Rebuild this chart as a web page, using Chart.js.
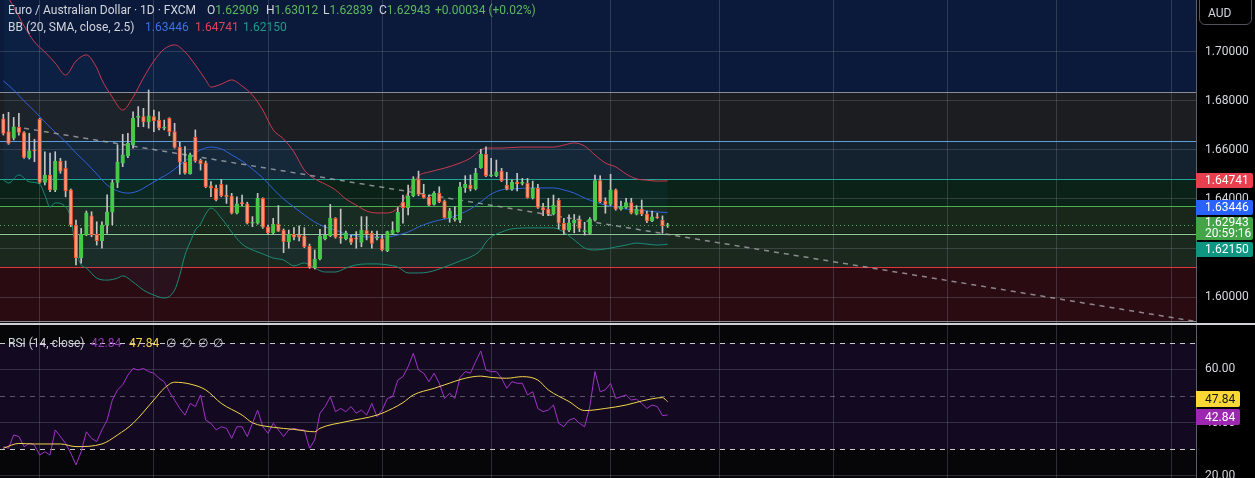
<!DOCTYPE html>
<html><head><meta charset="utf-8">
<script src="https://cdn.jsdelivr.net/npm/chart.js@4.4.1/dist/chart.umd.min.js"></script>
<style>
body{margin:0;background:#000;width:1255px;height:478px;overflow:hidden;position:relative;font-family:Roboto,"Noto Sans",sans-serif;}
.abs{position:absolute;white-space:nowrap;}
.hdr{font-size:12px;line-height:16px;color:#d1d4dc;}
.lg{font-size:12px;line-height:16px;color:#d1d4dc;}
.g{color:#5cb860;}
.badge{position:absolute;left:1196px;box-sizing:border-box;padding:0 5px 0 9px;font-size:12px;color:#fff;border-radius:0 2px 2px 0;white-space:nowrap;}
</style></head>
<body>
<canvas id="main" width="1255" height="323" style="position:absolute;left:0;top:0"></canvas>
<div style="position:absolute;left:0;top:323px;width:1255px;height:2px;background:#cfd1d6"></div>
<canvas id="rsi" width="1255" height="153" style="position:absolute;left:0;top:325px"></canvas>

<div class="abs hdr" style="left:8px;top:2px">Euro / Australian Dollar · 1D · FXCM</div>
<div class="abs hdr" style="left:207px;top:2px">O<span class="g" id="vO"></span></div>
<div class="abs hdr" style="left:266px;top:2px">H<span class="g" id="vH"></span></div>
<div class="abs hdr" style="left:323px;top:2px">L<span class="g" id="vL"></span></div>
<div class="abs hdr" style="left:379px;top:2px">C<span class="g" id="vC"></span></div>
<div class="abs hdr g" style="left:435px;top:2px" id="vChg"></div>
<div class="abs hdr" style="left:8px;top:19px">BB (20, SMA, close, 2.5)</div>
<div class="abs hdr" style="left:145px;top:19px;color:#3d6fe8" id="vMid"></div>
<div class="abs hdr" style="left:195px;top:19px;color:#dc4356" id="vUp"></div>
<div class="abs hdr" style="left:243px;top:19px;color:#1a9c88" id="vLo"></div>

<div class="abs lg" style="left:8px;top:335px">RSI (14, close)</div>
<div class="abs lg" style="left:91px;top:335px;color:#8e3bb0" id="vRsi"></div>
<div class="abs lg" style="left:129px;top:335px;color:#f2d54a" id="vMa"></div>
<div class="abs lg" style="left:166px;top:335px">∅</div>
<div class="abs lg" style="left:182px;top:335px">∅</div>
<div class="abs lg" style="left:198px;top:335px">∅</div>
<div class="abs lg" style="left:213px;top:335px">∅</div>

<div class="abs" style="left:1199px;top:-6px;width:53px;height:31px;border:1px solid #50535c;border-radius:6px;box-sizing:border-box;color:#d1d4dc;font-size:12px;line-height:12px;padding:12px 0 0 8px">AUD</div>
<div id="badges"></div>

<script>
// ---------- DATA ----------
const opens = [1.6727,1.6675,1.6648,1.6693,1.6671,1.6569,1.6598,1.6725,1.6468,1.6498,
1.6437,1.6555,1.6525,1.6437,1.6294,1.6160,1.6253,1.6331,1.6256,1.6230,
1.6294,1.6346,1.6468,1.6546,1.6576,1.6621,1.6733,1.6736,1.6715,1.6736,
1.6722,1.6689,1.6729,1.6675,1.6611,1.6550,1.6502,1.6652,1.6558,1.6548,
1.6454,1.6444,1.6460,1.6416,1.6412,1.6342,1.6382,1.6380,1.6301,1.6301,
1.6403,1.6285,1.6262,1.6297,1.6273,1.6226,1.6256,1.6253,1.6249,1.6208,
1.6120,1.6155,1.6237,1.6250,1.6321,1.6244,1.6237,1.6242,1.6237,1.6223,
1.6271,1.6260,1.6240,1.6237,1.6189,1.6260,1.6267,1.6387,1.6365,1.6413,
1.6482,1.6419,1.6407,1.6378,1.6423,1.6392,1.6324,1.6317,1.6314,1.6446,
1.6457,1.6441,1.6528,1.6582,1.6495,1.6495,1.6514,1.6457,1.6440,1.6468,
1.6464,1.6464,1.6405,1.6444,1.6365,1.6359,1.6339,1.6396,1.6301,1.6273,
1.6301,1.6314,1.6267,1.6260,1.6314,1.6475,1.6392,1.6378,1.6437,1.6358,
1.6366,1.6385,1.6338,1.6359,1.6338,1.6311,1.6327,1.6314,1.62909];
const highs = [1.6746,1.6754,1.6733,1.6750,1.6675,1.6668,1.6644,1.6729,1.6593,1.6587,
1.6593,1.6566,1.6555,1.6441,1.6314,1.6280,1.6351,1.6348,1.6307,1.6307,
1.6417,1.6478,1.6621,1.6664,1.6668,1.6756,1.6777,1.6770,1.6845,1.6763,
1.6756,1.6722,1.6732,1.6709,1.6632,1.6614,1.6587,1.6682,1.6563,1.6555,
1.6471,1.6457,1.6480,1.6457,1.6423,1.6409,1.6416,1.6387,1.6328,1.6423,
1.6405,1.6294,1.6321,1.6373,1.6278,1.6273,1.6283,1.6290,1.6283,1.6216,
1.6192,1.6276,1.6294,1.6378,1.6324,1.6359,1.6269,1.6253,1.6267,1.6328,
1.6328,1.6269,1.6269,1.6253,1.6269,1.6307,1.6365,1.6416,1.6457,1.6491,
1.6514,1.6460,1.6416,1.6430,1.6450,1.6396,1.6362,1.6369,1.6468,1.6495,
1.6498,1.6525,1.6603,1.6613,1.6566,1.6559,1.6525,1.6509,1.6478,1.6505,
1.6484,1.6484,1.6473,1.6460,1.6382,1.6403,1.6416,1.6403,1.6321,1.6335,
1.6337,1.6331,1.6305,1.6324,1.6498,1.6495,1.6405,1.6501,1.6441,1.6392,
1.6403,1.6403,1.6373,1.6396,1.6351,1.6351,1.6342,1.6331,1.63012];
const lows = [1.6661,1.6623,1.6641,1.6661,1.6566,1.6563,1.6552,1.6464,1.6457,1.6430,
1.6430,1.6505,1.6409,1.6287,1.6131,1.6138,1.6250,1.6246,1.6212,1.6199,
1.6260,1.6294,1.6446,1.6532,1.6569,1.6607,1.6695,1.6695,1.6689,1.6675,
1.6682,1.6682,1.6658,1.6607,1.6501,1.6501,1.6501,1.6550,1.6518,1.6446,
1.6409,1.6392,1.6409,1.6382,1.6339,1.6339,1.6373,1.6298,1.6287,1.6297,
1.6280,1.6256,1.6257,1.6267,1.6181,1.6199,1.6233,1.6229,1.6201,1.6117,
1.6114,1.6151,1.6233,1.6246,1.6240,1.6219,1.6233,1.6215,1.6199,1.6205,
1.6233,1.6199,1.6233,1.6188,1.6185,1.6256,1.6264,1.6301,1.6335,1.6409,
1.6413,1.6403,1.6373,1.6375,1.6385,1.6321,1.6305,1.6310,1.6303,1.6427,
1.6433,1.6437,1.6525,1.6491,1.6491,1.6491,1.6471,1.6437,1.6435,1.6433,
1.6457,1.6403,1.6400,1.6362,1.6332,1.6332,1.6335,1.6278,1.6256,1.6267,
1.6262,1.6267,1.6253,1.6256,1.6310,1.6385,1.6342,1.6373,1.6354,1.6354,
1.6362,1.6339,1.6335,1.6332,1.6303,1.6307,1.6321,1.6260,1.62839];
const closes = [1.6668,1.6627,1.6695,1.6672,1.6570,1.6597,1.6596,1.6468,1.6498,1.6437,
1.6555,1.6514,1.6433,1.6294,1.6160,1.6256,1.6344,1.6253,1.6230,1.6294,
1.6348,1.6467,1.6550,1.6580,1.6627,1.6729,1.6735,1.6715,1.6739,1.6720,
1.6689,1.6690,1.6675,1.6611,1.6550,1.6505,1.6580,1.6555,1.6544,1.6450,
1.6444,1.6396,1.6413,1.6409,1.6342,1.6380,1.6381,1.6301,1.6302,1.6403,
1.6285,1.6262,1.6297,1.6269,1.6226,1.6256,1.6244,1.6244,1.6205,1.6124,
1.6155,1.6249,1.6253,1.6321,1.6244,1.6240,1.6262,1.6223,1.6236,1.6272,
1.6257,1.6219,1.6241,1.6192,1.6267,1.6272,1.6346,1.6365,1.6413,1.6482,
1.6419,1.6405,1.6375,1.6423,1.6389,1.6324,1.6351,1.6318,1.6450,1.6460,
1.6441,1.6505,1.6582,1.6495,1.6496,1.6511,1.6475,1.6440,1.6468,1.6462,
1.6465,1.6405,1.6444,1.6366,1.6355,1.6339,1.6375,1.6301,1.6273,1.6303,
1.6314,1.6280,1.6268,1.6317,1.6475,1.6389,1.6378,1.6437,1.6358,1.6369,
1.6385,1.6342,1.6359,1.6338,1.6311,1.6327,1.6323,1.62909,1.62943];

const upperBars = [0,2,4,6,8,10,12,14,16,18,19,21,23,25,27,29,31,33,35,37,39,40,42,44,46,48,50,52,54,56,58,60,62,64,66,68,70,72,74,76,78,80,82,85,88,90,92,93,96,100,104,106,108,110,112,114,116,118,120,122,124,126,128];
const upperVals = [1.7253,1.7184,1.7106,1.7041,1.7000,1.6955,1.6906,1.6963,1.6988,1.6935,1.6886,1.6816,1.6763,1.6816,1.6894,1.6963,1.7012,1.7029,1.7000,1.6947,1.6886,1.6857,1.6869,1.6886,1.6861,1.6824,1.6763,1.6682,1.6645,1.6592,1.6518,1.6482,1.6461,1.6437,1.6400,1.6375,1.6351,1.6343,1.6343,1.6363,1.6428,1.6494,1.6510,1.6526,1.6547,1.6567,1.6600,1.6608,1.6608,1.6612,1.6612,1.6612,1.6620,1.6629,1.6616,1.6580,1.6547,1.6531,1.6502,1.6482,1.6477,1.6473,1.64741];
const midBars = [0,2,4,6,8,10,12,14,16,18,20,22,24,26,28,30,32,34,36,38,40,42,44,46,48,50,52,54,56,58,60,62,64,66,68,70,72,74,76,78,80,82,84,86,88,90,92,94,96,98,102,106,108,110,112,114,116,118,120,122,124,126,128];
const midVals = [1.6882,1.6845,1.6800,1.6759,1.6714,1.6673,1.6633,1.6588,1.6547,1.6502,1.6457,1.6433,1.6424,1.6433,1.6457,1.6482,1.6506,1.6539,1.6571,1.6600,1.6612,1.6604,1.6580,1.6555,1.6522,1.6486,1.6441,1.6400,1.6367,1.6335,1.6306,1.6286,1.6273,1.6257,1.6249,1.6245,1.6245,1.6245,1.6253,1.6265,1.6286,1.6302,1.6314,1.6322,1.6339,1.6359,1.6388,1.6420,1.6437,1.6441,1.6445,1.6445,1.6437,1.6424,1.6404,1.6388,1.6375,1.6367,1.6359,1.6355,1.6351,1.6347,1.63446];
const lowerBars = [0,1,3,5,7,8,9,10,12,13,14,15,16,18,20,22,23,25,27,29,31,33,34,35,36,37,38,39,40,42,44,46,48,50,52,54,56,58,60,62,64,66,68,70,72,74,76,78,80,82,85,88,90,92,93,94,96,98,102,106,108,110,112,114,116,118,120,122,124,126,128];
const lowerVals = [1.6478,1.6465,1.6498,1.6470,1.6461,1.6416,1.6367,1.6384,1.6367,1.6322,1.6192,1.6131,1.6118,1.6077,1.6069,1.6077,1.6086,1.6061,1.6028,1.6008,1.5996,1.6028,1.6090,1.6171,1.6224,1.6273,1.6298,1.6339,1.6363,1.6322,1.6265,1.6216,1.6192,1.6176,1.6159,1.6151,1.6127,1.6139,1.6118,1.6102,1.6102,1.6118,1.6131,1.6135,1.6135,1.6131,1.6122,1.6098,1.6098,1.6102,1.6122,1.6147,1.6163,1.6192,1.6224,1.6245,1.6265,1.6278,1.6282,1.6282,1.6265,1.6233,1.6200,1.6192,1.6196,1.6204,1.6212,1.6220,1.6216,1.6212,1.62150];

const trendBars = [4, 229.8];
const trendVals = [1.6689, 1.5900];

const fibPrices = [1.59020, 1.61226, 1.62591, 1.63694, 1.64796, 1.66367, 1.68367];
const fibLineColors = ['#8a8d96','#e0383e','#8fca90','#4caf50','#22a593','#5f9fdc','#8a8d96'];
const fibFillColors = ['#2a0b11','#1b281e','#19261a','#0b2219','#142230','#1c1d20'];
const fibAboveColor = '#0b1a3a';

const rsiVals = [30.9,30.3,35.3,34.7,30.9,32.1,31.5,27.7,29.0,27.7,
37.2,34.7,32.1,28.4,24.0,29.0,36.5,34.0,32.8,37.2,
40.9,48.5,52.3,54.2,57.9,60.4,59.8,60.4,59.2,58.6,
56.7,55.4,51.6,48.5,45.3,42.8,47.2,46.0,50.4,40.9,
39.7,37.2,38.4,37.8,34.0,38.4,38.4,34.7,39.7,44.7,
38.4,35.9,39.7,37.2,34.7,37.2,37.8,37.2,37.2,30.3,
33.4,43.5,46.0,49.7,44.1,45.3,44.1,46.0,43.5,44.7,
42.8,47.2,42.2,44.7,49.1,49.7,56.0,57.3,61.1,66.1,
59.8,58.6,55.4,58.6,54.8,49.1,51.0,49.1,57.0,59.2,
58.6,63.0,67.0,59.8,59.2,59.2,56.7,52.9,55.4,54.8,
54.8,50.4,51.6,45.3,44.1,44.7,46.6,39.7,38.4,40.9,
41.6,39.7,38.4,46.0,59.2,51.6,52.3,54.8,49.1,49.7,
50.4,48.5,48.8,47.2,45.3,46.6,46.0,42.6,42.84];
const maBars = [0,3,6,11,14,19,22,25,29,31,33,36,39,42,46,48,52,56,60,61,66,72,75,77,79,83,85,89,92,94,97,100,103,105,109,112,116,120,123,127,128];
const maVals = [30.3,32.1,31.9,31.9,30.9,31.9,35.3,39.7,48.5,52.9,55.2,54.5,52.3,47.2,42.8,39.9,38.2,37.4,36.5,37.8,40.3,42.8,45.3,47.5,50.4,52.9,54.2,56.7,57.5,57.0,56.7,57.3,56.0,52.3,47.9,44.5,45.3,46.6,48.1,49.4,47.84];

const gridBars = [7, 29, 51, 73, 94, 117, 138, 160, 182, 203, 225];
const priceTicks = [1.60, 1.62, 1.64, 1.66, 1.68, 1.70];
const rsiTicks = [20, 40, 60];
const rsiLevels = [70, 50, 30];
const countdown = '20:59:16';

// ---------- STYLE ----------
const GRID = 'rgba(125,128,140,0.32)';
const AXIS_TXT = '#d6d8de';
const FONT = {family:'Roboto, "Noto Sans", sans-serif', size:12};
const X_RANGE = {min:-0.64, max:229.8};

const pts = (bars, vals) => bars.map((b,i)=>({x:b, y:vals[i]}));
const n = closes.length;
const isUp = opens.map((o,i)=>closes[i]>=o);
const noPad = s=>{s.paddingTop=0; s.paddingBottom=0; s.paddingLeft=0; s.paddingRight=0;};

function xScale(){
  return {type:'linear', min:X_RANGE.min, max:X_RANGE.max, offset:false,
    ticks:{display:false}, grid:{color:GRID, drawTicks:false, offset:false},
    border:{display:false},
    afterBuildTicks:s=>{s.ticks = gridBars.map(v=>({value:v}));},
    afterFit:s=>{s.height = 0; noPad(s);}};
}

const mainPlugin = {
  id:'mainbg',
  beforeDraw(chart){
    const {ctx, chartArea:a, scales:{y}} = chart;
    const w = a.right - a.left;
    ctx.save();
    ctx.fillStyle = '#000'; ctx.fillRect(0,0,chart.width,chart.height);
    ctx.fillStyle = '#0e0e0f'; ctx.fillRect(a.left,a.top,w,a.bottom-a.top);
    const top = y.getPixelForValue(fibPrices[fibPrices.length-1]);
    ctx.fillStyle = fibAboveColor; ctx.fillRect(a.left,a.top,w,top-a.top);
    for(let i=0;i<fibPrices.length-1;i++){
      const y0 = y.getPixelForValue(fibPrices[i]), y1 = y.getPixelForValue(fibPrices[i+1]);
      ctx.fillStyle = fibFillColors[i]; ctx.fillRect(a.left,y1,w,y0-y1);
    }
    ctx.restore();
  },
  beforeDatasetsDraw(chart){
    const {ctx, chartArea:a, scales:{y}} = chart;
    ctx.save();
    ctx.lineWidth = 1;
    fibPrices.forEach((p,i)=>{
      const py = Math.round(y.getPixelForValue(p))+0.5;
      ctx.strokeStyle = fibLineColors[i];
      ctx.beginPath(); ctx.moveTo(a.left,py); ctx.lineTo(a.right,py); ctx.stroke();
    });
    const py = Math.round(y.getPixelForValue(closes[n-1]))+0.5;
    ctx.strokeStyle = '#4caf50'; ctx.setLineDash([1,3]);
    ctx.beginPath(); ctx.moveTo(a.left,py); ctx.lineTo(a.right,py); ctx.stroke();
    ctx.restore();
  }
};

const mainChart = new Chart(document.getElementById('main'), {
  type:'bar',
  data:{datasets:[
    {type:'bar', data:opens.map((o,i)=>({x:i, y:[o, closes[i]]})),
     backgroundColor:isUp.map(u=>u?'#46c84a':'#f59a7c'),
     borderColor:isUp.map(u=>u?'#46c84a':'#f0522f'),
     borderWidth:1, borderSkipped:false, barThickness:3.6, grouped:false, minBarLength:1, order:0},
    {type:'bar', data:highs.map((h,i)=>({x:i, y:[lows[i], h]})),
     backgroundColor:'#c4c4c4', borderWidth:0, barThickness:1, grouped:false, minBarLength:1, order:1},
    {type:'line', data:pts(upperBars,upperVals), borderColor:'#c83a4f', borderWidth:1, pointRadius:0, cubicInterpolationMode:'monotone', order:3},
    {type:'line', data:pts(midBars,midVals), borderColor:'#2f62dc', borderWidth:1, pointRadius:0, cubicInterpolationMode:'monotone', order:3},
    {type:'line', data:pts(lowerBars,lowerVals), borderColor:'#1a8b78', borderWidth:1, pointRadius:0, cubicInterpolationMode:'monotone', order:3,
     fill:{target:2}, backgroundColor:'rgba(33,150,243,0.05)'},
    {type:'line', data:pts(trendBars,trendVals), borderColor:'rgba(175,175,180,0.75)', borderWidth:1.5, borderDash:[5,5], pointRadius:0, order:2}
  ]},
  options:{
    responsive:false, animation:false, events:[],
    layout:{padding:0},
    plugins:{legend:{display:false}, tooltip:{enabled:false}},
    scales:{
      x:xScale(),
      y:{position:'right', min:1.58939, max:1.72122,
        ticks:{color:AXIS_TXT, font:FONT, padding:9, callback:v=>Number(v).toFixed(5)},
        grid:{color:GRID, drawTicks:false},
        border:{display:true, color:'#5d606b'},
        afterBuildTicks:s=>{s.ticks = priceTicks.map(v=>({value:v}));},
        afterFit:s=>{s.width = 59; noPad(s);}}
    }
  },
  plugins:[mainPlugin]
});

const rsiPlugin = {
  id:'rsibg',
  beforeDraw(chart){
    const {ctx, chartArea:a, scales:{y}} = chart;
    const w = a.right-a.left;
    ctx.save();
    ctx.fillStyle = '#000'; ctx.fillRect(0,0,chart.width,chart.height);
    ctx.fillStyle = '#060507'; ctx.fillRect(a.left,a.top,w,a.bottom-a.top);
    const y0 = y.getPixelForValue(rsiLevels[0]), y1 = y.getPixelForValue(rsiLevels[2]);
    ctx.fillStyle = '#130a21'; ctx.fillRect(a.left,y0,w,y1-y0);
    ctx.restore();
  },
  beforeDatasetsDraw(chart){
    const {ctx, chartArea:a, scales:{y}} = chart;
    ctx.save(); ctx.lineWidth = 1; ctx.setLineDash([5,5]);
    rsiLevels.forEach((lv,i)=>{
      const py = Math.round(y.getPixelForValue(lv))+0.5;
      ctx.strokeStyle = i===1 ? 'rgba(150,150,160,0.55)' : '#c9c9cc';
      ctx.beginPath(); ctx.moveTo(a.left,py); ctx.lineTo(a.right,py); ctx.stroke();
    });
    ctx.restore();
  }
};

const rsiChart = new Chart(document.getElementById('rsi'), {
  type:'line',
  data:{datasets:[
    {data:rsiVals.map((v,i)=>({x:i,y:v})), borderColor:'#a032c8', borderWidth:1, pointRadius:0, tension:0, order:1},
    {data:pts(maBars,maVals), borderColor:'#f2d54a', borderWidth:1, pointRadius:0, cubicInterpolationMode:'monotone', order:0}
  ]},
  options:{
    responsive:false, animation:false, events:[],
    layout:{padding:0},
    plugins:{legend:{display:false}, tooltip:{enabled:false}},
    scales:{
      x:xScale(),
      y:{position:'right', min:19.06, max:76.79,
        ticks:{color:AXIS_TXT, font:FONT, padding:9, callback:v=>Number(v).toFixed(2)},
        grid:{color:GRID, drawTicks:false},
        border:{display:true, color:'#5d606b'},
        afterBuildTicks:s=>{s.ticks = rsiTicks.map(v=>({value:v}));},
        afterFit:s=>{s.width = 59; noPad(s);}}
    }
  },
  plugins:[rsiPlugin]
});

// ---------- TEXT ----------
const f5 = v=>v.toFixed(5);
document.getElementById('vO').textContent = f5(opens[n-1]);
document.getElementById('vH').textContent = f5(highs[n-1]);
document.getElementById('vL').textContent = f5(lows[n-1]);
document.getElementById('vC').textContent = f5(closes[n-1]);
const chg = closes[n-1]-closes[n-2];
document.getElementById('vChg').textContent = (chg>=0?'+':'')+chg.toFixed(5)+' ('+(chg>=0?'+':'')+(chg/closes[n-2]*100).toFixed(2)+'%)';
document.getElementById('vMid').textContent = f5(midVals[midVals.length-1]);
document.getElementById('vUp').textContent = f5(upperVals[upperVals.length-1]);
document.getElementById('vLo').textContent = f5(lowerVals[lowerVals.length-1]);
document.getElementById('vRsi').textContent = rsiVals[rsiVals.length-1].toFixed(2);
document.getElementById('vMa').textContent = maVals[maVals.length-1].toFixed(2);

// ---------- BADGES (positions from the scales) ----------
function layoutBadges(items){
  items.sort((a,b)=>a.t-b.t);
  let cl = items.map(it=>({items:[it], t:it.t, h:it.h}));
  let changed = true;
  while(changed){
    changed = false;
    for(let i=1;i<cl.length;i++){
      const a = cl[i-1], b = cl[i];
      if(a.t + a.h > b.t){
        const its = a.items.concat(b.items);
        let off = 0, sum = 0;
        its.forEach(it=>{sum += it.t - off; off += it.h;});
        cl.splice(i-1,2,{items:its, t:sum/its.length, h:a.h+b.h});
        changed = true; break;
      }
    }
  }
  cl.forEach(c=>{let y=c.t; c.items.forEach(it=>{it.top=y; y+=it.h;});});
}
const holder = document.getElementById('badges');
function addBadges(chart, offsetTop, list, slot, fixedWidth){
  const y = chart.scales.y;
  const items = list.map(b=>{
    const lines = b.lines.length;
    return Object.assign({}, b, {t: offsetTop + y.getPixelForValue(b.v) - slot/2, h: slot*lines - (lines-1)*9});
  });
  layoutBadges(items);
  items.forEach(it=>{
    const d = document.createElement('div');
    d.className = 'badge';
    d.style.top = (it.top+1)+'px';
    d.style.height = (it.h-2)+'px';
    d.style.lineHeight = it.lines.length>1 ? '11px' : (it.h-2)+'px';
    if(it.lines.length>1) d.style.paddingTop = '0px';
    if(fixedWidth) d.style.width = fixedWidth+'px';
    d.style.background = it.bg; d.style.color = it.fg;
    d.innerHTML = it.lines.join('<br>');
    holder.appendChild(d);
  });
}
addBadges(mainChart, 0, [
  {v:upperVals[upperVals.length-1], lines:[f5(upperVals[upperVals.length-1])], bg:'#e8404f', fg:'#fff'},
  {v:midVals[midVals.length-1], lines:[f5(midVals[midVals.length-1])], bg:'#2962ff', fg:'#fff'},
  {v:closes[n-1], lines:[f5(closes[n-1]), countdown], bg:'#43a548', fg:'#fff'},
  {v:lowerVals[lowerVals.length-1], lines:[f5(lowerVals[lowerVals.length-1])], bg:'#0e9683', fg:'#fff'}
], 17, 57);
addBadges(rsiChart, 325, [
  {v:maVals[maVals.length-1], lines:[maVals[maVals.length-1].toFixed(2)], bg:'#fbd835', fg:'#131722'},
  {v:rsiVals[rsiVals.length-1], lines:[rsiVals[rsiVals.length-1].toFixed(2)], bg:'#9c27b0', fg:'#fff'}
], 18, 0);
</script>
</body></html>
